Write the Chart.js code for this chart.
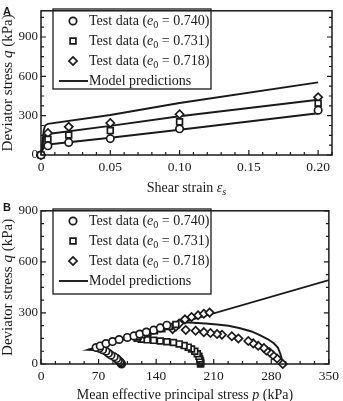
<!DOCTYPE html>
<html>
<head>
<title>Deviator stress charts</title>
<script src="https://cdn.jsdelivr.net/npm/chart.js"></script>
<style>
body { margin: 0; background: #fff; }
canvas { position: absolute; left: 0; }
#chartA { top: 0; }
#chartB { top: 200px; }
</style>
</head>
<body>
<canvas id="chartA" width="343" height="200"></canvas>
<canvas id="chartB" width="343" height="201"></canvas>
<script>
// ---- panel A: q vs shear strain ----
const strainA = [0, 0.005, 0.02, 0.05, 0.10, 0.20];
const qA740 = [0, 70, 96, 125, 200, 342];
const qA731 = [0, 120, 152, 186, 253, 395];
const qA718 = [0, 168, 215, 244, 311, 441];

const strainModelA = [0, 0.001, 0.002, 0.003, 0.005, 0.05, 0.10, 0.20];
const modelA740 = [0, 35, 60, 72, 80, 132, 193, 318];
const modelA731 = [0, 70, 125, 148, 160, 222, 296, 421];
const modelA718 = [0, 90, 190, 225, 238, 305, 397, 554];

const xTicksA = [0, 0.05, 0.10, 0.15, 0.20];
const xTickLabelsA = ['0', '0.05', '0.10', '0.15', '0.20'];
const yTicksA = [0, 300, 600, 900];

// ---- panel B: q vs p ----
const p740 = [98, 97, 96, 94, 92, 89, 85, 82, 79, 75, 71, 67, 72, 79, 87, 95, 105, 113, 120, 128, 137, 145, 153];
const q740 = [0, 6, 13, 22, 32, 42, 52, 63, 75, 84, 92, 97, 106, 120, 132, 144, 156, 165, 176, 188, 199, 212, 228];
const p731 = [194, 194, 194, 193, 192, 190, 187, 183, 179, 174, 168, 161, 153, 145, 137, 129, 122, 117, 118, 123, 130, 138, 147, 156, 164];
const q731 = [0, 8, 18, 30, 45, 60, 75, 88, 99, 108, 118, 126, 131, 135, 139, 142, 146, 152, 162, 172, 183, 195, 207, 220, 232];
const p718 = [294, 287, 282, 278, 274, 271, 264, 258, 252, 240, 232, 220, 214, 206, 198, 188, 176, 160, 164, 168, 175, 183, 191, 198, 205];
const q718 = [0, 32, 51, 69, 79, 94, 107, 121, 135, 150, 163, 172, 176, 182, 187, 195, 200, 205, 219, 238, 262, 276, 286, 295, 302];

const pModel740 = [99, 97, 94, 90, 84, 77, 70, 57, 350];
const qModel740 = [0, 18, 36, 52, 66, 78, 81, 84, 493];
const pModel731 = [195, 195, 193, 189, 182, 172, 158, 140, 122, 112];
const qModel731 = [0, 20, 45, 70, 92, 112, 130, 145, 155, 160];
const pModel718 = [294, 293, 291, 288, 283, 276, 266, 256, 242, 228, 214, 200, 180, 172];
const qModel718 = [0, 25, 60, 97, 122, 145, 170, 191, 210, 225, 232, 238, 244, 244];

const xTicksB = [0, 70, 140, 210, 280, 350];
const yTicksB = [0, 300, 600, 900];

const legendRows = [
  { style: 'circle', value: '0.740' },
  { style: 'rect', value: '0.731' },
  { style: 'rectRot', value: '0.718' }
];

const SERIF = '"Liberation Serif", "Times New Roman", serif';
const INK = '#1a1a1a';
const RADIUS = { circle: 3.7, rect: 4.1, rectRot: 4.1 };

function xy(xs, ys) {
  return xs.map((x, i) => ({ x: x, y: ys[i] }));
}

function testSet(style, xs, ys) {
  return {
    type: 'scatter', data: xy(xs, ys), pointStyle: style, pointRadius: RADIUS[style],
    borderColor: INK, backgroundColor: '#fff', pointBorderWidth: 1.7, showLine: false, order: 1, clip: false
  };
}

function modelSet(xs, ys) {
  return {
    type: 'line', data: xy(xs, ys), borderColor: INK, borderWidth: 1.9,
    pointRadius: 0, fill: false, tension: 0, order: 2
  };
}

// text made of runs: plain, italic, subscript
function richWidth(ctx, parts, size) {
  let w = 0;
  parts.forEach(p => {
    ctx.font = (p.it ? 'italic ' : '') + (p.sub ? size * 0.72 : size) + 'px ' + SERIF;
    w += ctx.measureText(p.t).width;
  });
  return w;
}
function drawRich(ctx, parts, x, y, size) {
  parts.forEach(p => {
    ctx.font = (p.it ? 'italic ' : '') + (p.sub ? size * 0.72 : size) + 'px ' + SERIF;
    ctx.fillText(p.t, x, p.sub ? y + size * 0.3 : y);
    x += ctx.measureText(p.t).width;
  });
}

const deco = {
  id: 'deco',
  afterDraw(chart, args, o) {
    const { ctx, chartArea: a, scales: { x, y } } = chart;
    ctx.save();
    ctx.strokeStyle = INK;
    ctx.fillStyle = INK;
    // frame
    ctx.lineWidth = 1.5;
    ctx.strokeRect(a.left, a.top, a.right - a.left, a.bottom - a.top);
    // inward ticks: bottom, left, right
    ctx.lineWidth = 1.2;
    ctx.beginPath();
    for (let i = 0; i * o.xMinor <= x.max + 1e-9; i++) {
      const px = x.getPixelForValue(i * o.xMinor);
      const len = i % o.xEvery === 0 ? 5 : 3;
      ctx.moveTo(px, a.bottom); ctx.lineTo(px, a.bottom - len);
    }
    for (let i = 0; i * o.yMinor <= y.max + 1e-9; i++) {
      const py = y.getPixelForValue(i * o.yMinor);
      const len = i % o.yEvery === 0 ? 5 : 3;
      ctx.moveTo(a.left, py); ctx.lineTo(a.left + len, py);
      ctx.moveTo(a.right, py); ctx.lineTo(a.right - len, py);
    }
    ctx.stroke();

    // panel letter
    ctx.font = 'bold 11px "Liberation Sans", Arial, sans-serif';
    ctx.textBaseline = 'alphabetic';
    ctx.textAlign = 'left';
    ctx.fillText(o.letter, 3, o.letterY);

    // legend
    const L = o.legend;
    ctx.lineWidth = 1.3;
    ctx.strokeRect(L.x, L.y, L.w, L.h);
    ctx.textBaseline = 'middle';
    legendRows.forEach((r, i) => {
      const ry = L.y + 12 + i * 20;
      ctx.fillStyle = '#fff';
      ctx.lineWidth = 1.7;
      Chart.helpers.drawPoint(ctx, { pointStyle: r.style, radius: RADIUS[r.style], borderWidth: 1.7, rotation: 0 }, L.x + 20, ry);
      ctx.fillStyle = INK;
      drawRich(ctx, [{ t: 'Test data (' }, { t: 'e', it: true }, { t: '0', sub: true }, { t: ' = ' + r.value + ')' }], L.x + 36, ry, 14);
    });
    const ly = L.y + 12 + 3 * 20;
    ctx.lineWidth = 1.9;
    ctx.beginPath(); ctx.moveTo(L.x + 6, ly); ctx.lineTo(L.x + 35, ly); ctx.stroke();
    ctx.font = '14px ' + SERIF;
    ctx.fillText('Model predictions', L.x + 36, ly);

    // axis titles
    const cx = (a.left + a.right) / 2;
    const wx = richWidth(ctx, o.xTitle, 14);
    drawRich(ctx, o.xTitle, cx - wx / 2, o.xTitleY, 14);
    const cy = (a.top + a.bottom) / 2;
    ctx.translate(8.5, cy);
    ctx.rotate(-Math.PI / 2);
    const wy = richWidth(ctx, o.yTitle, 15);
    drawRich(ctx, o.yTitle, -wy / 2, 0, 15);
    ctx.restore();
  }
};

function makeChart(id, datasets, cfg) {
  return new Chart(document.getElementById(id), {
    data: { datasets: datasets },
    plugins: [deco],
    options: {
      responsive: false,
      animation: false,
      layout: { padding: { top: cfg.top, right: 11, left: 0, bottom: 0 } },
      plugins: { legend: { display: false }, tooltip: { enabled: false }, deco: cfg.deco },
      scales: {
        x: {
          type: 'linear', min: cfg.xMin, max: cfg.xMax,
          afterFit: s => { s.height = cfg.xHeight; },
          afterBuildTicks: s => { s.ticks = cfg.xTicks.map(v => ({ value: v })); },
          grid: { display: false, drawTicks: false },
          border: { display: false },
          ticks: {
            padding: 4, color: INK, maxRotation: 0, autoSkip: false,
            font: { family: SERIF, size: 13.5 },
            callback: (v, i) => cfg.xLabels[i]
          }
        },
        y: {
          type: 'linear', min: 0, max: cfg.yMax,
          afterFit: s => { s.width = 41; },
          afterBuildTicks: s => { s.ticks = cfg.yTicks.map(v => ({ value: v })); },
          grid: { display: false, drawTicks: false },
          border: { display: false },
          ticks: {
            padding: 3, color: INK, autoSkip: false,
            font: { family: SERIF, size: 13 },
            callback: (v, i) => String(cfg.yTicks[i])
          }
        }
      }
    }
  });
}

makeChart('chartA', [
  modelSet(strainModelA, modelA740),
  modelSet(strainModelA, modelA731),
  modelSet(strainModelA, modelA718),
  testSet('circle', strainA, qA740),
  testSet('rect', strainA, qA731),
  testSet('rectRot', strainA, qA718)
], {
  top: 3, xHeight: 45, xMin: 0, xMax: 0.21, yMax: 1100,
  xTicks: xTicksA, xLabels: xTickLabelsA, yTicks: yTicksA,
  deco: {
    letter: 'A', letterY: 15,
    xMinor: 0.01, xEvery: 5, yMinor: 75, yEvery: 4,
    legend: { x: 53, y: 9, w: 158, h: 80 },
    xTitle: [{ t: 'Shear strain ' }, { t: '\u03b5', it: true }, { t: 's', it: true, sub: true }],
    xTitleY: 188,
    yTitle: [{ t: 'Deviator stress ' }, { t: 'q', it: true }, { t: ' (kPa)' }]
  }
});

makeChart('chartB', [
  modelSet(pModel740, qModel740),
  modelSet(pModel731, qModel731),
  modelSet(pModel718, qModel718),
  testSet('circle', p740, q740),
  testSet('rect', p731, q731),
  testSet('rectRot', p718, q718)
], {
  top: 4, xHeight: 37, xMin: 0, xMax: 350, yMax: 900,
  xTicks: xTicksB, xLabels: xTicksB.map(String), yTicks: yTicksB,
  deco: {
    letter: 'B', letterY: 11,
    xMinor: 17.5, xEvery: 4, yMinor: 75, yEvery: 4,
    legend: { x: 53, y: 9, w: 158, h: 85 },
    xTitle: [{ t: 'Mean effective principal stress ' }, { t: 'p', it: true }, { t: ' (kPa)' }],
    xTitleY: 195,
    yTitle: [{ t: 'Deviator stress ' }, { t: 'q', it: true }, { t: ' (kPa)' }]
  }
});
</script>
</body>
</html>
